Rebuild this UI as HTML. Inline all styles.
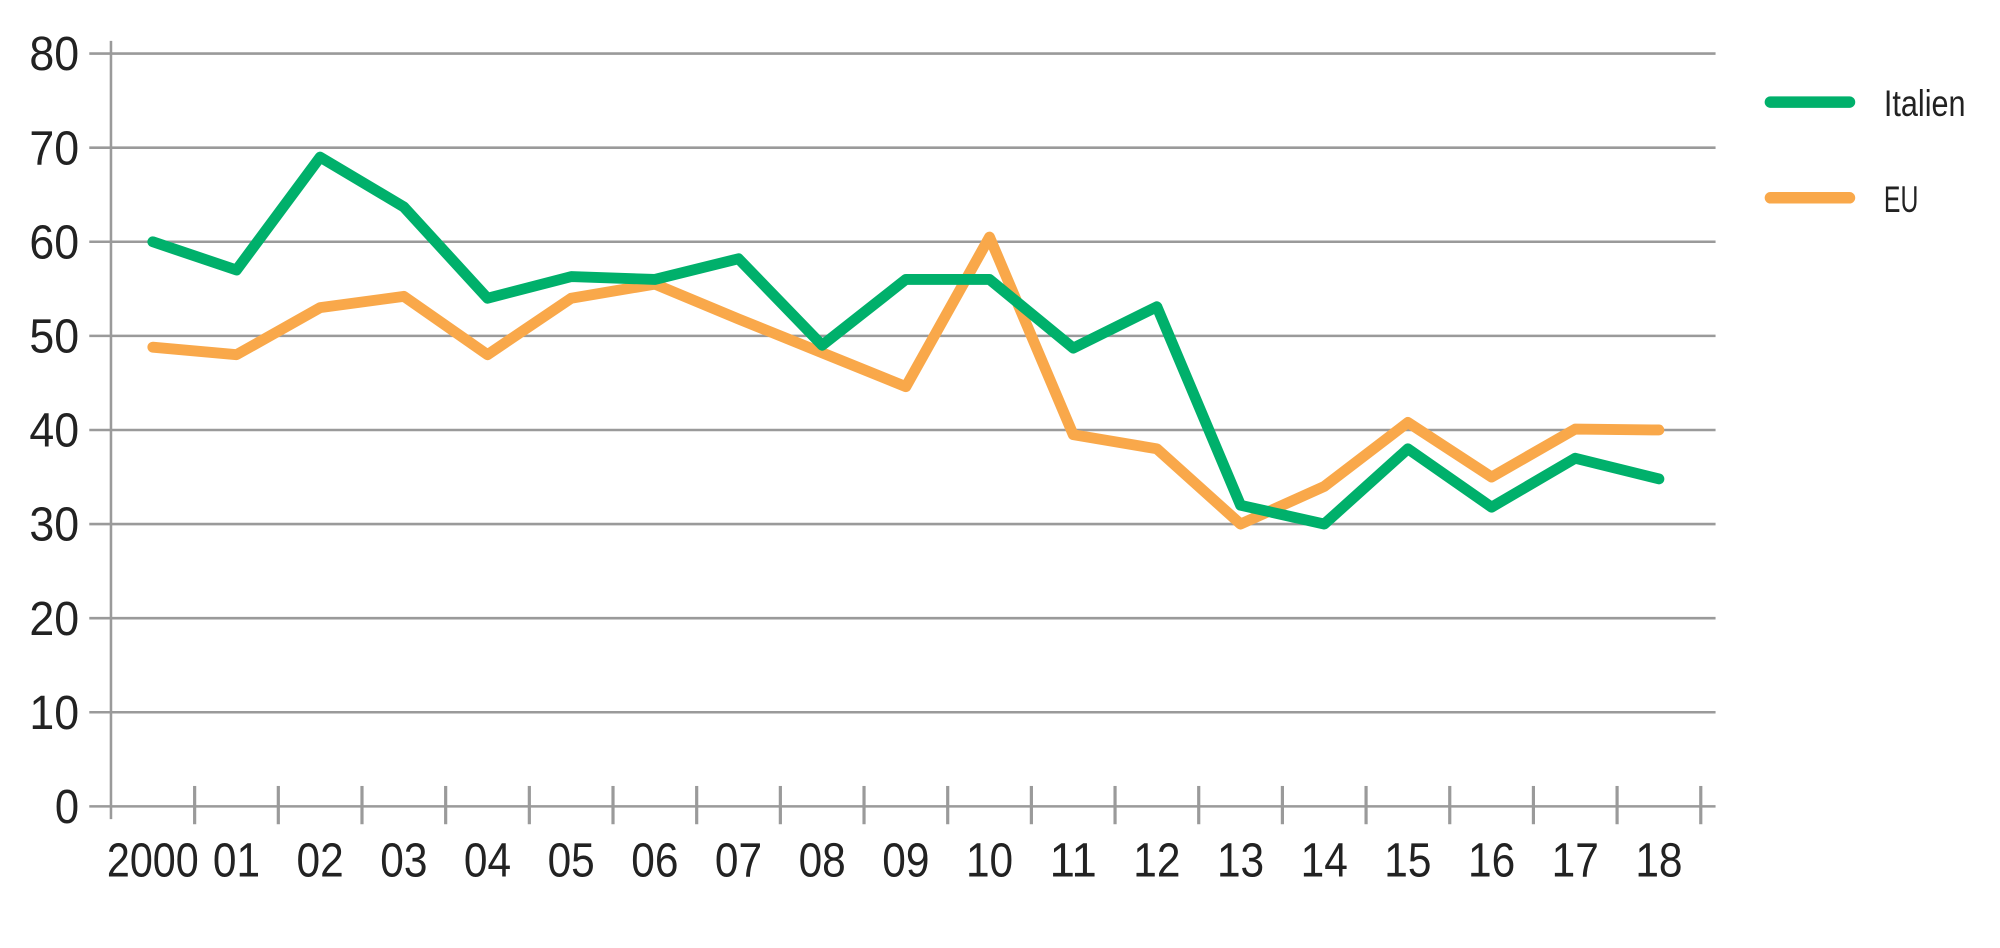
<!DOCTYPE html>
<html><head><meta charset="utf-8"><style>
html,body{margin:0;padding:0;background:#fff;width:2000px;height:948px;overflow:hidden}
svg{display:block}
text{font-family:"Liberation Sans",sans-serif;fill:#222}
</style></head><body>
<svg width="2000" height="948" viewBox="0 0 1568 743" preserveAspectRatio="none">
<g stroke="#9a9a9a" stroke-width="2">
<line x1="70" y1="42" x2="1345" y2="42"/>
<line x1="70" y1="115.75" x2="1345" y2="115.75"/>
<line x1="70" y1="189.5" x2="1345" y2="189.5"/>
<line x1="70" y1="263.25" x2="1345" y2="263.25"/>
<line x1="70" y1="337" x2="1345" y2="337"/>
<line x1="70" y1="410.75" x2="1345" y2="410.75"/>
<line x1="70" y1="484.5" x2="1345" y2="484.5"/>
<line x1="70" y1="558.25" x2="1345" y2="558.25"/>
<line x1="70" y1="632" x2="1345" y2="632"/>
<line x1="87" y1="32" x2="87" y2="642"/>
</g>
<g stroke="#9a9a9a" stroke-width="2.5" id="ticks"></g>
<g font-size="38" text-anchor="end" id="yl"></g>
<g font-size="38" text-anchor="middle" id="xl"></g>
<polyline id="eu" fill="none" stroke="#f9a84a" stroke-width="8.5" stroke-linejoin="round" stroke-linecap="round"/>
<polyline id="it" fill="none" stroke="#00b06b" stroke-width="8.5" stroke-linejoin="round" stroke-linecap="round"/>
<line x1="1388" y1="80" x2="1450" y2="80" stroke="#00b06b" stroke-width="9" stroke-linecap="round"/>
<line x1="1388" y1="155" x2="1450" y2="155" stroke="#f9a84a" stroke-width="9" stroke-linecap="round"/>
<text x="1477" y="91" font-size="29" textLength="64" lengthAdjust="spacingAndGlyphs">Italien</text>
<text x="1477" y="166" font-size="29" textLength="27" lengthAdjust="spacingAndGlyphs">EU</text>
</svg>
<script>
var it=[60,57,69,63.7,54,56.3,56,58.2,49,56,56,48.7,53.1,32,30,38,31.8,37,34.8];
var eu=[48.8,48,53,54.2,48,54,55.5,51.8,48.2,44.6,60.5,39.5,38,30,34,40.8,35,40.1,40];
var labs=["2000","01","02","03","04","05","06","07","08","09","10","11","12","13","14","15","16","17","18"];
function X(i){return 87+32.8+65.6*i}function Y(v){return 632-7.375*v}
document.getElementById('it').setAttribute('points',it.map(function(v,i){return X(i)+','+Y(v)}).join(' '));
document.getElementById('eu').setAttribute('points',eu.map(function(v,i){return X(i)+','+Y(v)}).join(' '));
var ns="http://www.w3.org/2000/svg",t=document.getElementById('ticks'),xl=document.getElementById('xl'),yl=document.getElementById('yl');
for(var i=1;i<=19;i++){var l=document.createElementNS(ns,'line');var x=87+65.6*i;l.setAttribute('x1',x);l.setAttribute('x2',x);l.setAttribute('y1',616);l.setAttribute('y2',646);t.appendChild(l);}
for(var i=0;i<19;i++){var e=document.createElementNS(ns,'text');e.setAttribute('x',X(i));e.setAttribute('y',687);e.setAttribute('textLength',labs[i].length==4?72:37);e.setAttribute('lengthAdjust','spacingAndGlyphs');e.textContent=labs[i];xl.appendChild(e);}
for(var v=0;v<=80;v+=10){var e=document.createElementNS(ns,'text');e.setAttribute('x',62);e.setAttribute('y',Y(v)+13);var s=String(v);e.setAttribute('textLength',s.length==1?19:39);e.setAttribute('lengthAdjust','spacingAndGlyphs');e.textContent=s;yl.appendChild(e);}
</script>
</body></html>
